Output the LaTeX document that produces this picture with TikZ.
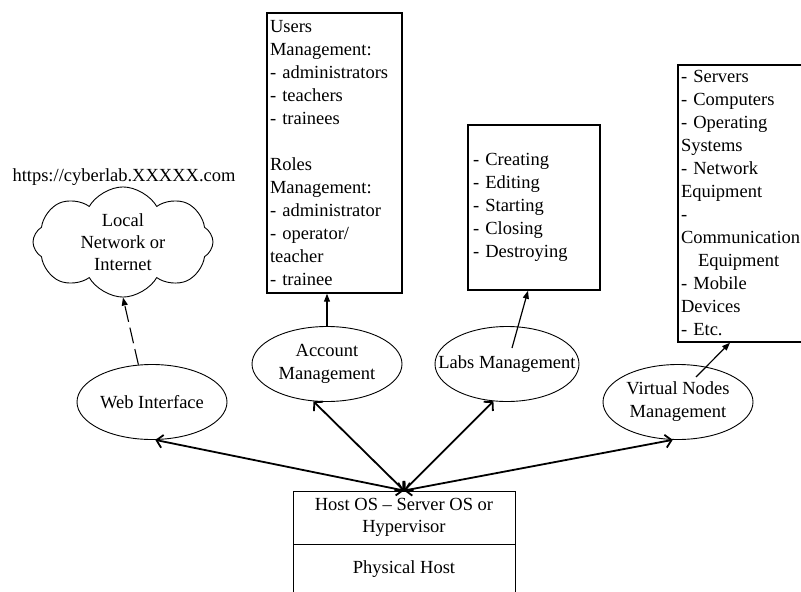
\documentclass[tikz,border=0pt]{standalone}
\usepackage{fontspec}
\setmainfont{Liberation Serif}
\usetikzlibrary{positioning,arrows.meta,shapes.geometric,shapes.symbols,calc}
\tikzset{
  txt/.style={font=\fontsize{18.5}{23}\selectfont,inner sep=0pt},
  ell/.style={txt,ellipse,draw,line width=0.9pt,minimum width=150pt,minimum height=75pt,align=center},
  listbox/.style={txt,draw,line width=1.4pt,align=left,inner ysep=0pt},
  hostbox/.style={txt,draw,line width=0.9pt,minimum width=222pt,align=center,font=\fontsize{18.5}{22}\selectfont},
  both/.style={{Straight Barb[length=6pt,width=13pt]}-{Straight Barb[length=6pt,width=13pt]},line width=1.8pt},
  sarr/.style={-{Triangle[length=8pt,width=6pt]},line width=1.2pt},
}
\begin{document}
\begin{tikzpicture}[x=1pt,y=-1pt]
\useasboundingbox (0,0) rectangle (801,592);
\clip (0,0) rectangle (801,592);
% address and network
\node[txt] (url) at (124,177) {https://cyberlab.XXXXX.com};
\node[txt,cloud,draw,line width=0.9pt,cloud puffs=8,cloud puff arc=120,aspect=2,minimum width=180pt,minimum height=89pt,align=center,font=\fontsize{18.5}{22}\selectfont] (cloud) at (123,242) {Local\\Network or\\Internet};
% modules
\node[ell] (web) at (152,402) {Web Interface};
\node[ell] (acct) at (327,364) {Account\\Management};
\node[ell,minimum width=144pt] (labs) at (507,364) {\makebox[0pt]{Labs Management}};
\node[ell] (vn) at (678,402) {Virtual Nodes\\Management};
% lists
\node[listbox,minimum width=135pt,minimum height=280pt,text width=129pt,inner xsep=3pt] (users) at (334.5,153)
  {Users\\Management:\\- administrators\\- teachers\\- trainees\\[23pt]Roles\\Management:\\- administrator\\- operator/\\teacher\\- trainee};
\node[listbox,minimum width=132pt,minimum height=165pt,text width=122pt,inner xsep=5pt] (labsbox) at (534,207.5)
  {- Creating\\- Editing\\- Starting\\- Closing\\- Destroying};
\node[listbox,minimum width=135pt,minimum height=277pt,text width=129pt,inner xsep=3pt] (vnbox) at (745.5,203.5)
  {- Servers\\- Computers\\- Operating\\Systems\\- Network\\Equipment\\-\\Communication\\\hspace*{17pt}Equipment\\- Mobile\\Devices\\- Etc.};
% host
\node[hostbox,minimum height=53pt] (hostos) at (404,517.5) {Host OS -- Server OS or\\Hypervisor};
\node[hostbox,minimum height=51pt] (phys) at (404,569.5) {Physical Host};
% connectors
\coordinate (labsin) at (512,348);
\coordinate (vnin) at (696,377);
\draw[sarr,dash pattern=on 16pt off 6pt,line width=1.1pt] (web.110) -- (cloud.south);
\draw[sarr] (acct.north) -- (acct.north |- users.south);
\draw[sarr] (labsin) -- ($(labsbox.south)+(-6,0)$);
\draw[sarr] (vnin) -- ($(vnbox.south)+(-15.5,0)$);
\draw[both] (web.275) -- (hostos.north);
\draw[both] (acct.250) -- (hostos.north);
\draw[both] (labs.250) -- (hostos.north);
\draw[both] (vn.262) -- (hostos.north);
\end{tikzpicture}
\end{document}
